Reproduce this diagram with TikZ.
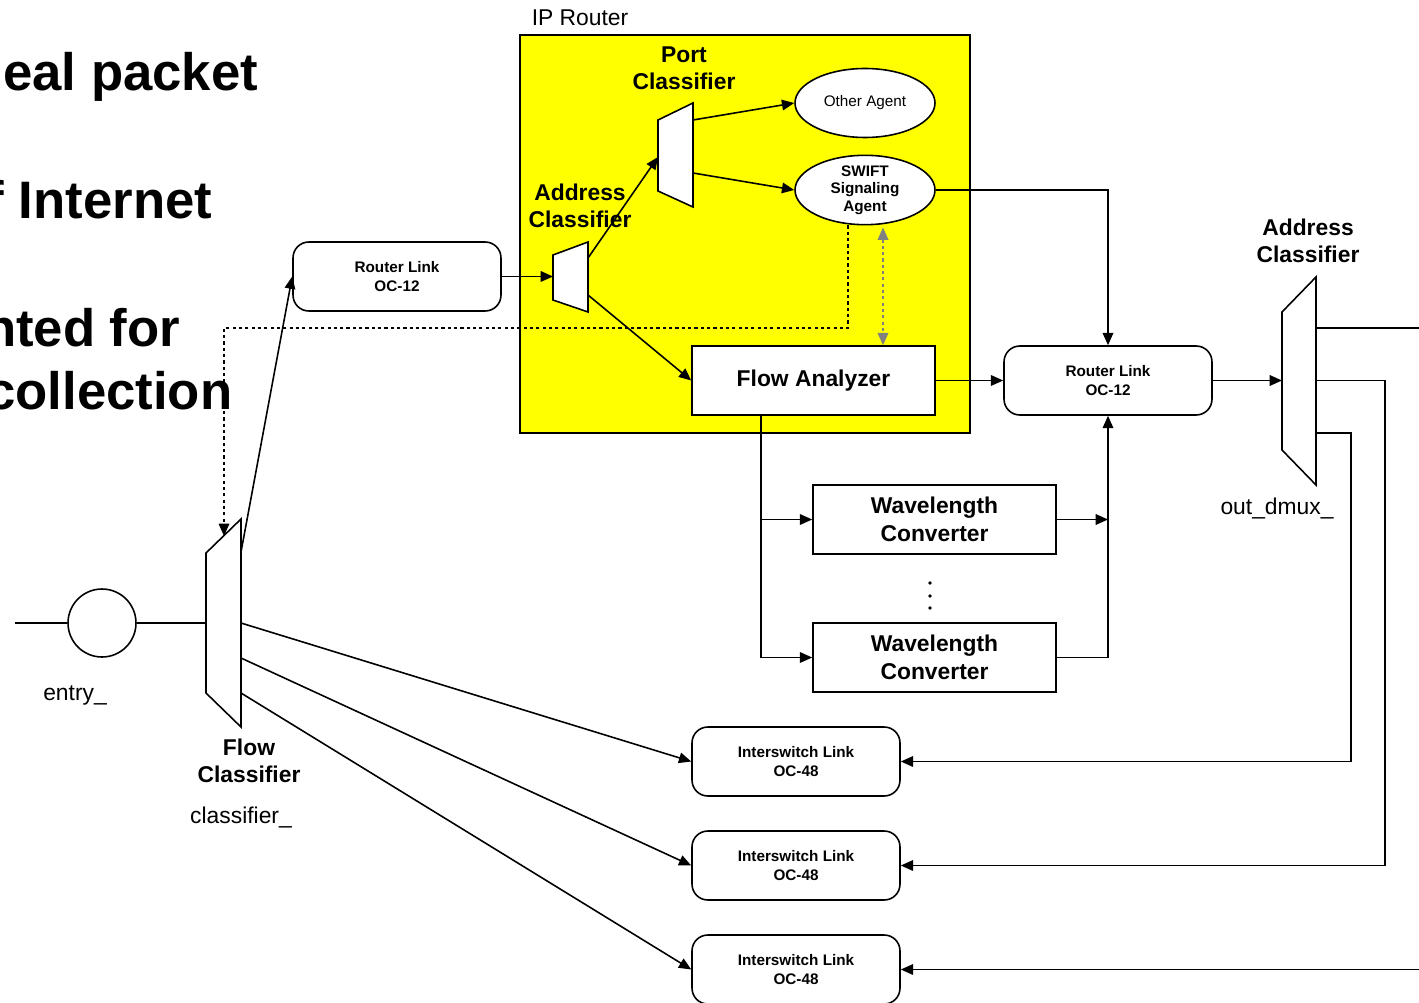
\documentclass[tikz,border=0pt]{standalone}
\usepackage{fontspec}
\setmainfont{Liberation Sans}
\usepackage{tikz}
\usetikzlibrary{arrows.meta,positioning,calc,shapes.geometric}
\definecolor{routerfill}{RGB}{255,255,0}

\begin{document}
\begin{tikzpicture}[
  x=0.02cm, y=-0.02cm,
  line width=0.9pt,
  >={Triangle[length=7pt,width=6pt]},
  linkbox/.style={draw, rounded corners=9pt, fill=white, minimum width=4.16cm, minimum height=1.38cm, inner sep=0pt, align=center, font=\fontsize{8.7}{10.6}\selectfont\bfseries},
  unitbox/.style={draw, fill=white, minimum width=4.86cm, minimum height=1.38cm, inner sep=0pt, align=center, font=\fontsize{13}{15.8}\selectfont\bfseries},
  agent/.style={draw, ellipse, fill=white, minimum width=2.8cm, minimum height=1.38cm, inner sep=0pt, align=center, font=\fontsize{8.7}{10.4}\selectfont},
  title/.style={align=center, font=\fontsize{13}{15.4}\selectfont\bfseries},
  tag/.style={anchor=base, font=\fontsize{13}{15}\selectfont},
  big/.style={anchor=base east, inner sep=0pt, font=\fontsize{30}{36}\selectfont\bfseries},
  dotline/.style={dash pattern=on 1.8pt off 1.8pt}]
\useasboundingbox (0,0) rectangle (1419,1003);
\clip (0,0) rectangle (1419,1003);
% slide text behind the figure
\node[big] (txa) at (259,91) {eal packet};
\node[big] (txb) at (213,219) {f Internet};
\node[big] (txc) at (181,346) {nted for};
\node[big] (txd) at (233,409) {collection};
% IP router
\node[draw, fill=routerfill, minimum width=9cm, minimum height=7.96cm, anchor=north west, inner sep=0pt] (router) at (519,34) {};
\node[anchor=base west, inner sep=0pt, font=\fontsize{13}{15}\selectfont] (rtlab) at (531,26) {IP Router};
\node[title] (pclab) at (684,68) {Port\\Classifier};
\node[title] (aclab) at (580,206) {Address\\Classifier};
\node[agent] (oagent) at (865,103) {Other Agent};
\node[agent, font=\fontsize{8.7}{10}\selectfont\bfseries] (sagent) at (865,190) {SWIFT\\Signaling\\Agent};
\node[unitbox] (flowan) at (813.5,380.5) {Flow Analyzer};
% classifiers inside the router
\draw[fill=white] (553,255) -- (588,242) -- (588,312) -- (553,300) -- cycle;
\coordinate (acin) at (553,276.5);
\coordinate (acup) at (588,258);
\coordinate (acdn) at (588,295);
\draw[fill=white] (658,120) -- (693,103) -- (693,207) -- (658,191) -- cycle;
\coordinate (pcin) at (658,157);
\coordinate (pcup) at (693,120);
\coordinate (pcdn) at (693,173);
% links and converters
\node[linkbox] (rlink1) at (397,276.5) {Router Link\\OC-12};
\node[linkbox] (rlink2) at (1108,380.5) {Router Link\\OC-12};
\node[unitbox] (wconv1) at (934.5,519.5) {Wavelength\\Converter};
\node[unitbox] (wconv2) at (934.5,657.5) {Wavelength\\Converter};
\foreach \yy in {583,596,608}
  \fill (930,\yy) circle (1.9);
\node[linkbox] (islink1) at (796,761.5) {Interswitch Link\\OC-48};
\node[linkbox] (islink2) at (796,865.5) {Interswitch Link\\OC-48};
\node[linkbox] (islink3) at (796,969.5) {Interswitch Link\\OC-48};
% output demux
\draw[fill=white] (1282,312) -- (1316,277) -- (1316,485) -- (1282,450) -- cycle;
\coordinate (odin) at (1282,380.5);
\coordinate (odout1) at (1316,328);
\coordinate (odout2) at (1316,380.5);
\coordinate (odout3) at (1316,433);
\node[title] (oclab) at (1308,241) {Address\\Classifier};
\node[tag] (odlab) at (1277,514) {out\_dmux\_};
% entry and flow classifier
\node[draw, circle, minimum size=1.36cm, inner sep=0pt] (entry) at (102,623) {};
\node[tag] (enlab) at (75,700) {entry\_};
\draw[fill=white] (206,553) -- (241,519) -- (241,727) -- (206,693) -- cycle;
\coordinate (fcin) at (206,623);
\coordinate (fctop) at (224,536);
\coordinate (fcout0) at (241,552);
\coordinate (fcout1) at (241,623);
\coordinate (fcout2) at (241,658);
\coordinate (fcout3) at (241,693);
\node[title] (fclab) at (249,761) {Flow\\Classifier};
\node[tag] (fctag) at (241,823) {classifier\_};
\coordinate (srcin) at (15,623);
\coordinate (farout1) at (1419,328);
\coordinate (farin3) at (1419,969.5);
% connectors
\draw (srcin) -- (entry.west);
\draw (entry.east) -- (fcin);
\draw[->] (fcout0) -- (rlink1.west);
\draw[->] (fcout1) -- (islink1.west);
\draw[->] (fcout2) -- (islink2.west);
\draw[->] (fcout3) -- (islink3.west);
\draw[->] (rlink1.east) -- (acin);
\draw[->] (acup) -- (pcin);
\draw[->] (acdn) -- (flowan.west);
\draw[->] (pcup) -- (oagent.west);
\draw[->] (pcdn) -- (sagent.west);
\draw[->] (sagent.east) -| (rlink2.north);
\coordinate (dotturn) at (224,328);
\draw[->, dotline] ($(sagent.south)+(-17,0)$) |- (dotturn) -- (fctop);
\coordinate (gtop) at ($(sagent.south)+(18,2)$);
\draw[<->, dotline, gray] (gtop) -- (gtop |- flowan.north);
\draw[->] (flowan.east) -- (rlink2.west);
\coordinate (fabot) at ($(flowan.south west)+(70,0)$);
\draw[->] (fabot) |- (wconv1.west);
\draw[->] (fabot) |- (wconv2.west);
\draw[->] (wconv1.east) -- (wconv1.east -| rlink2.south);
\draw[->] (wconv2.east) -| (rlink2.south);
\draw[->] (rlink2.east) -- (odin);
\draw (odout1) -- (farout1);
\draw[->] (odout2) -- ++(69,0) |- (islink2.east);
\draw[->] (odout3) -- ++(35,0) |- (islink1.east);
\draw[->] (farin3) -- (islink3.east);
\end{tikzpicture}
\end{document}
